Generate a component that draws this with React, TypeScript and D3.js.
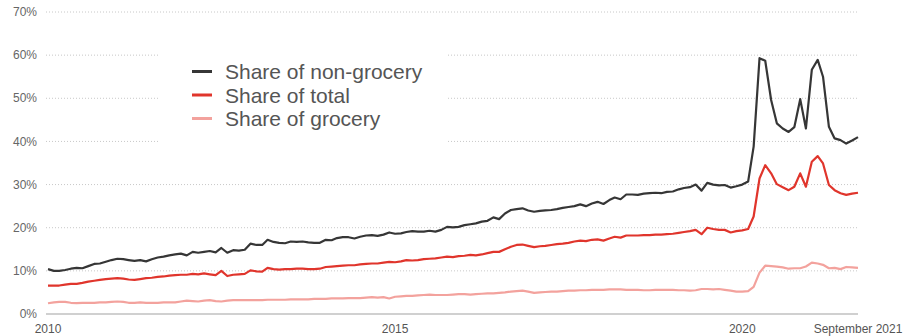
import React from "react";
import * as d3 from "d3";

const START_YEAR = 2010;
const START_MONTH = 0; // January

const nonGrocery = [
  10.4, 10.0, 10.0, 10.2, 10.5, 10.7, 10.6, 11.1, 11.6, 11.7, 12.1, 12.5,
  12.8, 12.7, 12.5, 12.3, 12.5, 12.2, 12.7, 13.1, 13.3, 13.6, 13.8, 14.0,
  13.6, 14.4, 14.2, 14.4, 14.6, 14.3, 15.3, 14.2, 14.8, 14.7, 14.9, 16.3,
  16.0, 16.0, 17.2, 16.7, 16.5, 16.4, 16.8, 16.7, 16.8, 16.6, 16.5, 16.5,
  17.2, 17.1, 17.6, 17.8, 17.8, 17.5, 17.9, 18.2, 18.3, 18.1, 18.4, 18.9,
  18.6, 18.7, 19.0, 19.2, 19.1, 19.1, 19.3, 19.1, 19.5, 20.2, 20.1, 20.2,
  20.6, 20.8, 21.0, 21.4, 21.6, 22.4, 22.0, 23.3, 24.1, 24.3, 24.5, 24.0,
  23.7, 23.9, 24.0, 24.1, 24.3, 24.6, 24.8, 25.0, 25.4, 25.0, 25.6, 26.0,
  25.5, 26.4, 27.0, 26.6, 27.7, 27.7, 27.6, 27.9, 28.0, 28.1, 28.0, 28.3,
  28.4, 28.9, 29.2, 29.4, 30.0, 28.6, 30.4, 30.0, 29.8, 29.9, 29.3, 29.6,
  30.0, 30.7, 38.8, 59.3, 58.7, 49.6, 44.2, 43.0, 42.2, 43.3, 49.8, 43.0,
  56.6, 58.9, 55.0, 43.4, 40.7, 40.3, 39.5, 40.2, 41.0,
];

const total = [
  6.6, 6.6, 6.6, 6.8, 7.0, 7.0, 7.2, 7.5, 7.7, 7.9, 8.1, 8.2,
  8.3, 8.2, 8.0, 7.9, 8.1, 8.3, 8.4, 8.6, 8.7, 8.9, 9.0, 9.1,
  9.1, 9.3, 9.2, 9.4, 9.2, 9.0, 10.0, 8.8, 9.1, 9.2, 9.3, 10.1,
  9.9, 9.8, 10.7, 10.4, 10.3, 10.4, 10.4, 10.5, 10.5, 10.4, 10.4, 10.5,
  10.9, 11.0, 11.1, 11.2, 11.3, 11.3, 11.5, 11.6, 11.7, 11.7, 11.9, 12.1,
  12.0, 12.2, 12.5, 12.4, 12.5, 12.7, 12.8, 12.9, 13.1, 13.3, 13.2, 13.4,
  13.5, 13.7, 13.6, 13.8, 14.1, 14.4, 14.4, 15.0, 15.6, 16.0, 16.1, 15.8,
  15.5, 15.7, 15.8, 16.0, 16.2, 16.3, 16.5, 16.8, 17.0, 16.9, 17.2, 17.3,
  17.0, 17.5, 17.9, 17.7, 18.2, 18.2, 18.2, 18.3, 18.3, 18.4, 18.4, 18.5,
  18.6, 18.8, 19.0, 19.2, 19.5, 18.5, 20.0, 19.7, 19.5, 19.5, 18.9, 19.2,
  19.4, 19.7, 22.6, 31.4, 34.5, 32.6, 30.1, 29.4, 28.7, 29.5, 32.6, 29.5,
  35.3, 36.6, 34.9, 29.9, 28.7, 28.0, 27.6, 27.9, 28.1,
];

const grocery = [
  2.5, 2.7, 2.8, 2.8, 2.6, 2.5, 2.6, 2.6, 2.6, 2.7, 2.7, 2.8,
  2.9, 2.8, 2.6, 2.6, 2.7, 2.6, 2.6, 2.6, 2.7, 2.7, 2.7, 2.9,
  3.1, 3.0, 2.9, 3.1, 3.2, 3.0, 2.9, 3.1, 3.2, 3.2, 3.2, 3.2,
  3.2, 3.2, 3.3, 3.3, 3.3, 3.3, 3.4, 3.4, 3.4, 3.4, 3.5, 3.5,
  3.5, 3.6, 3.6, 3.6, 3.7, 3.7, 3.7, 3.8, 3.9, 3.8, 3.9, 3.6,
  4.0, 4.1, 4.2, 4.2, 4.3, 4.4, 4.5, 4.4, 4.4, 4.4, 4.5, 4.6,
  4.6, 4.5, 4.6, 4.7, 4.8, 4.8, 4.9, 5.0, 5.2, 5.3, 5.4, 5.2,
  4.9, 5.0, 5.1, 5.2, 5.2, 5.3, 5.4, 5.4, 5.5, 5.5, 5.6, 5.6,
  5.6, 5.7, 5.7, 5.7, 5.6, 5.6, 5.6, 5.5, 5.5, 5.6, 5.6, 5.6,
  5.6, 5.5, 5.5, 5.4, 5.5, 5.8, 5.8, 5.7, 5.8, 5.6, 5.4, 5.2,
  5.2, 5.3, 6.3, 9.6, 11.2, 11.1, 11.0, 10.8, 10.5, 10.6, 10.6, 11.0,
  11.9, 11.7, 11.4, 10.6, 10.7, 10.4, 10.9, 10.8, 10.7,
];

const yTicks = [0, 10, 20, 30, 40, 50, 60, 70];
const xTickYears = [2010, 2015, 2020];
const endLabel = "September 2021";

const seriesNames = ["Share of non-grocery", "Share of total", "Share of grocery"];
const seriesColors = ["#363636", "#e0352c", "#f3a29d"];

const W = 912;
const H = 336;
const M = { left: 48, right: 54, top: 12, bottom: 22 };

export default function App() {
  const seriesData = [nonGrocery, total, grocery];
  const dates = nonGrocery.map((_, i) => new Date(START_YEAR, START_MONTH + i, 1));
  const x = d3
    .scaleTime()
    .domain([dates[0], dates[dates.length - 1]])
    .range([M.left, W - M.right]);
  const y = d3.scaleLinear().domain([0, 70]).range([H - M.bottom, M.top]);

  const line = d3
    .line<number>()
    .x((_, i) => x(dates[i]))
    .y((d) => y(d))
    .curve(d3.curveLinear);

  const font = "'Liberation Sans', Arial, Helvetica, sans-serif";
  const gridX0 = M.left - 2;
  const gridX1 = W - M.right;

  return (
    <svg width={W} height={H} style={{ display: "block", position: "absolute", left: 0, top: 0 }} fontFamily={font}>
      <rect x={0} y={0} width={W} height={H} fill="#fff" />
      {yTicks.map((t) => (
        <g key={t}>
          {t === 0 ? (
            <line x1={gridX0} x2={gridX1} y1={y(t)} y2={y(t)} stroke="#d0d0d0" strokeWidth={2} />
          ) : (
            <line
              x1={gridX0}
              x2={gridX1}
              y1={y(t)}
              y2={y(t)}
              stroke="#c8c8c8"
              strokeWidth={1}
              strokeDasharray="1,2"
            />
          )}
          <text x={37} y={y(t)} dy="0.35em" textAnchor="end" fontSize={12} fill="#666">
            {t}%
          </text>
        </g>
      ))}
      {/* legend background hides grid */}
      <rect x={160} y={30} width={287} height={128} fill="#fff" />
      {xTickYears.map((yr) => (
        <text key={yr} x={x(new Date(yr, 0, 1))} y={333} textAnchor="middle" fontSize={12} fill="#555">
          {yr}
        </text>
      ))}
      <text x={x(dates[dates.length - 1])} y={333} textAnchor="middle" fontSize={12} fill="#555">
        {endLabel}
      </text>
      {[2, 1, 0].map((k) => (
        <path
          key={k}
          d={line(seriesData[k]) || ""}
          fill="none"
          stroke={seriesColors[k]}
          strokeWidth={2.2}
          strokeLinejoin="round"
        />
      ))}
      {seriesNames.map((name, k) => {
        const ly = 71.5 + k * 23.5;
        return (
          <g key={name}>
            <line x1={192} x2={212} y1={ly} y2={ly} stroke={seriesColors[k]} strokeWidth={3} />
            <text x={225} y={ly + 7.5} fontSize={21} fill="#555">
              {name}
            </text>
          </g>
        );
      })}
    </svg>
  );
}
